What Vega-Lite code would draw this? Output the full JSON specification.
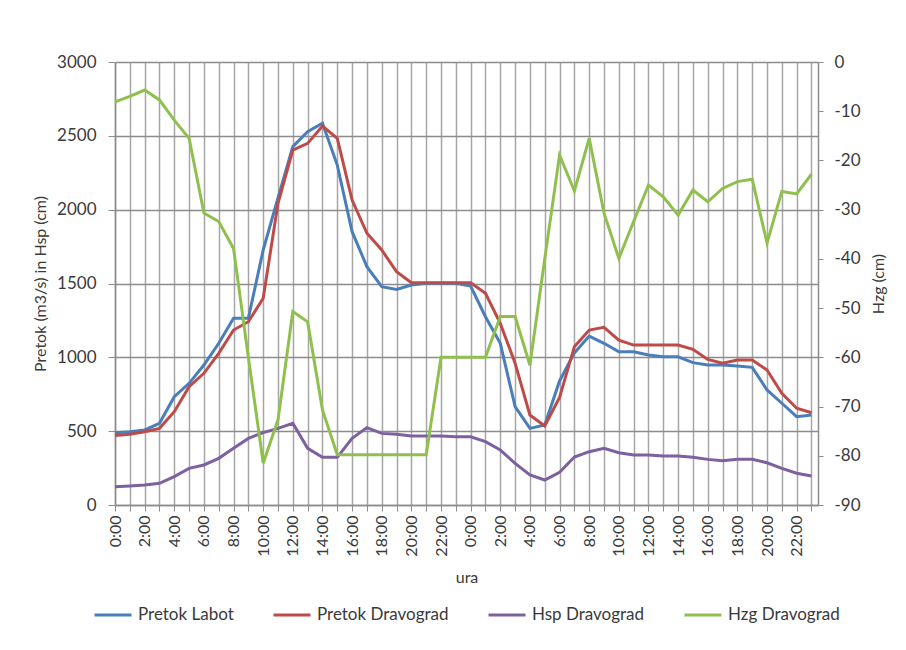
{
  "$schema": "https://vega.github.io/schema/vega-lite/v6.json",
  "width": 703,
  "height": 443,
  "autosize": {"type": "none"},
  "padding": {"left": 115, "top": 62, "right": 88, "bottom": 145},
  "background": "white",
  "config": {
    "font": "Lato",
    "view": {"stroke": null},
    "axis": {
      "labelFont": "Lato",
      "titleFont": "Lato",
      "labelColor": "#3a3a3a",
      "titleColor": "#3a3a3a",
      "labelFontSize": 16,
      "titleFontSize": 16,
      "titleFontWeight": "normal"
    },
    "legend": {
      "labelFont": "Lato",
      "labelFontSize": 17,
      "labelColor": "#3a3a3a"
    }
  },
  "data": {
    "values": [
      {"i": 0, "ura": "0:00", "Pretok Labot": 490, "Pretok Dravograd": 470, "Hsp Dravograd": 124, "Hzg Dravograd": -8.1},
      {"i": 1, "ura": "1:00", "Pretok Labot": 496, "Pretok Dravograd": 479, "Hsp Dravograd": 129, "Hzg Dravograd": -7.0},
      {"i": 2, "ura": "2:00", "Pretok Labot": 508, "Pretok Dravograd": 496, "Hsp Dravograd": 135, "Hzg Dravograd": -5.7},
      {"i": 3, "ura": "3:00", "Pretok Labot": 553, "Pretok Dravograd": 519, "Hsp Dravograd": 147, "Hzg Dravograd": -7.7},
      {"i": 4, "ura": "4:00", "Pretok Labot": 733, "Pretok Dravograd": 632, "Hsp Dravograd": 192, "Hzg Dravograd": -11.8},
      {"i": 5, "ura": "5:00", "Pretok Labot": 824, "Pretok Dravograd": 801, "Hsp Dravograd": 248, "Hzg Dravograd": -15.5},
      {"i": 6, "ura": "6:00", "Pretok Labot": 948, "Pretok Dravograd": 892, "Hsp Dravograd": 271, "Hzg Dravograd": -30.7},
      {"i": 7, "ura": "7:00", "Pretok Labot": 1095, "Pretok Dravograd": 1027, "Hsp Dravograd": 316, "Hzg Dravograd": -32.4},
      {"i": 8, "ura": "8:00", "Pretok Labot": 1264, "Pretok Dravograd": 1185, "Hsp Dravograd": 384, "Hzg Dravograd": -37.9},
      {"i": 9, "ura": "9:00", "Pretok Labot": 1264, "Pretok Dravograd": 1241, "Hsp Dravograd": 451, "Hzg Dravograd": -60},
      {"i": 10, "ura": "10:00", "Pretok Labot": 1727, "Pretok Dravograd": 1400, "Hsp Dravograd": 490, "Hzg Dravograd": -81.5},
      {"i": 11, "ura": "11:00", "Pretok Labot": 2080, "Pretok Dravograd": 2043, "Hsp Dravograd": 519, "Hzg Dravograd": -72.7},
      {"i": 12, "ura": "12:00", "Pretok Labot": 2427, "Pretok Dravograd": 2404, "Hsp Dravograd": 553, "Hzg Dravograd": -50.7},
      {"i": 13, "ura": "13:00", "Pretok Labot": 2528, "Pretok Dravograd": 2449, "Hsp Dravograd": 384, "Hzg Dravograd": -52.8},
      {"i": 14, "ura": "14:00", "Pretok Labot": 2585, "Pretok Dravograd": 2566, "Hsp Dravograd": 323, "Hzg Dravograd": -70.7},
      {"i": 15, "ura": "15:00", "Pretok Labot": 2302, "Pretok Dravograd": 2483, "Hsp Dravograd": 323, "Hzg Dravograd": -79.8},
      {"i": 16, "ura": "16:00", "Pretok Labot": 1851, "Pretok Dravograd": 2065, "Hsp Dravograd": 451, "Hzg Dravograd": -79.8},
      {"i": 17, "ura": "17:00", "Pretok Labot": 1614, "Pretok Dravograd": 1840, "Hsp Dravograd": 524, "Hzg Dravograd": -79.8},
      {"i": 18, "ura": "18:00", "Pretok Labot": 1478, "Pretok Dravograd": 1727, "Hsp Dravograd": 485, "Hzg Dravograd": -79.8},
      {"i": 19, "ura": "19:00", "Pretok Labot": 1460, "Pretok Dravograd": 1580, "Hsp Dravograd": 479, "Hzg Dravograd": -79.8},
      {"i": 20, "ura": "20:00", "Pretok Labot": 1490, "Pretok Dravograd": 1505, "Hsp Dravograd": 467, "Hzg Dravograd": -79.8},
      {"i": 21, "ura": "21:00", "Pretok Labot": 1501, "Pretok Dravograd": 1505, "Hsp Dravograd": 467, "Hzg Dravograd": -79.8},
      {"i": 22, "ura": "22:00", "Pretok Labot": 1501, "Pretok Dravograd": 1505, "Hsp Dravograd": 467, "Hzg Dravograd": -60},
      {"i": 23, "ura": "23:00", "Pretok Labot": 1501, "Pretok Dravograd": 1505, "Hsp Dravograd": 462, "Hzg Dravograd": -60},
      {"i": 24, "ura": "0:00", "Pretok Labot": 1483, "Pretok Dravograd": 1505, "Hsp Dravograd": 462, "Hzg Dravograd": -60},
      {"i": 25, "ura": "1:00", "Pretok Labot": 1275, "Pretok Dravograd": 1434, "Hsp Dravograd": 429, "Hzg Dravograd": -60},
      {"i": 26, "ura": "2:00", "Pretok Labot": 1095, "Pretok Dravograd": 1230, "Hsp Dravograd": 372, "Hzg Dravograd": -51.7},
      {"i": 27, "ura": "3:00", "Pretok Labot": 666, "Pretok Dravograd": 960, "Hsp Dravograd": 282, "Hzg Dravograd": -51.7},
      {"i": 28, "ura": "4:00", "Pretok Labot": 519, "Pretok Dravograd": 609, "Hsp Dravograd": 203, "Hzg Dravograd": -61.6},
      {"i": 29, "ura": "5:00", "Pretok Labot": 542, "Pretok Dravograd": 535, "Hsp Dravograd": 169, "Hzg Dravograd": -40},
      {"i": 30, "ura": "6:00", "Pretok Labot": 840, "Pretok Dravograd": 728, "Hsp Dravograd": 222, "Hzg Dravograd": -18.9},
      {"i": 31, "ura": "7:00", "Pretok Labot": 1030, "Pretok Dravograd": 1072, "Hsp Dravograd": 325, "Hzg Dravograd": -26.2},
      {"i": 32, "ura": "8:00", "Pretok Labot": 1144, "Pretok Dravograd": 1185, "Hsp Dravograd": 361, "Hzg Dravograd": -15.5},
      {"i": 33, "ura": "9:00", "Pretok Labot": 1095, "Pretok Dravograd": 1203, "Hsp Dravograd": 384, "Hzg Dravograd": -30.7},
      {"i": 34, "ura": "10:00", "Pretok Labot": 1038, "Pretok Dravograd": 1117, "Hsp Dravograd": 354, "Hzg Dravograd": -39.9},
      {"i": 35, "ura": "11:00", "Pretok Labot": 1038, "Pretok Dravograd": 1083, "Hsp Dravograd": 339, "Hzg Dravograd": -32.4},
      {"i": 36, "ura": "12:00", "Pretok Labot": 1016, "Pretok Dravograd": 1083, "Hsp Dravograd": 339, "Hzg Dravograd": -25.0},
      {"i": 37, "ura": "13:00", "Pretok Labot": 1004, "Pretok Dravograd": 1083, "Hsp Dravograd": 332, "Hzg Dravograd": -27.4},
      {"i": 38, "ura": "14:00", "Pretok Labot": 1004, "Pretok Dravograd": 1083, "Hsp Dravograd": 332, "Hzg Dravograd": -31.1},
      {"i": 39, "ura": "15:00", "Pretok Labot": 964, "Pretok Dravograd": 1054, "Hsp Dravograd": 323, "Hzg Dravograd": -26.0},
      {"i": 40, "ura": "16:00", "Pretok Labot": 948, "Pretok Dravograd": 986, "Hsp Dravograd": 309, "Hzg Dravograd": -28.4},
      {"i": 41, "ura": "17:00", "Pretok Labot": 948, "Pretok Dravograd": 960, "Hsp Dravograd": 300, "Hzg Dravograd": -25.7},
      {"i": 42, "ura": "18:00", "Pretok Labot": 941, "Pretok Dravograd": 982, "Hsp Dravograd": 309, "Hzg Dravograd": -24.3},
      {"i": 43, "ura": "19:00", "Pretok Labot": 932, "Pretok Dravograd": 982, "Hsp Dravograd": 309, "Hzg Dravograd": -23.8},
      {"i": 44, "ura": "20:00", "Pretok Labot": 779, "Pretok Dravograd": 914, "Hsp Dravograd": 286, "Hzg Dravograd": -36.8},
      {"i": 45, "ura": "21:00", "Pretok Labot": 689, "Pretok Dravograd": 756, "Hsp Dravograd": 248, "Hzg Dravograd": -26.3},
      {"i": 46, "ura": "22:00", "Pretok Labot": 598, "Pretok Dravograd": 655, "Hsp Dravograd": 215, "Hzg Dravograd": -26.8},
      {"i": 47, "ura": "23:00", "Pretok Labot": 609, "Pretok Dravograd": 625, "Hsp Dravograd": 196, "Hzg Dravograd": -22.8}
    ]
  },
  "encoding": {
    "x": {
      "field": "i",
      "type": "quantitative",
      "scale": {"domain": [0, 47.44], "nice": false, "zero": false},
      "axis": {
        "title": "ura",
        "values": [0,1,2,3,4,5,6,7,8,9,10,11,12,13,14,15,16,17,18,19,20,21,22,23,24,25,26,27,28,29,30,31,32,33,34,35,36,37,38,39,40,41,42,43,44,45,46,47],
        "labelExpr": "datum.value % 2 == 0 ? (datum.value % 24) + ':00' : ''",
        "labelAngle": 270,
        "labelOverlap": false,
        "labelFlush": false,
        "labelPadding": 4,
        "grid": true,
        "gridColor": "#a6a6a6",
        "gridWidth": 1.5,
        "gridOpacity": 1,
        "tickColor": "#8c8c8c",
        "tickSize": 6,
        "domainColor": "#8c8c8c",
        "domainWidth": 1.5,
        "titlePadding": 13
      }
    }
  },
  "layer": [
    {
      "transform": [{"fold": ["Pretok Labot", "Pretok Dravograd", "Hsp Dravograd"], "as": ["serija", "vrednost"]}],
      "mark": {"type": "line", "strokeWidth": 3},
      "encoding": {
        "y": {
          "field": "vrednost",
          "type": "quantitative",
          "scale": {"domain": [0, 3000], "nice": false},
          "axis": {
            "title": "Pretok (m3/s) in Hsp (cm)",
            "values": [0, 500, 1000, 1500, 2000, 2500, 3000],
            "format": "d",
            "labelFontSize": 17,
            "grid": true,
            "gridColor": "#8c8c8c",
            "gridWidth": 1.5,
            "gridOpacity": 1,
            "tickColor": "#8c8c8c",
            "tickSize": 7,
            "domainColor": "#8c8c8c",
            "domainWidth": 1.5,
            "labelPadding": 12,
            "titlePadding": 8
          }
        },
        "color": {
          "field": "serija",
          "type": "nominal",
          "scale": {
            "domain": ["Pretok Labot", "Pretok Dravograd", "Hsp Dravograd", "Hzg Dravograd"],
            "range": ["#4a7ebb", "#be4b48", "#7d60a0", "#8fc04e"]
          },
          "legend": {
            "title": null,
            "orient": "none",
            "legendX": -22,
            "legendY": 533,
            "direction": "horizontal",
            "symbolType": "stroke",
            "symbolStrokeWidth": 3,
            "symbolSize": 1369,
            "labelOffset": 5,
            "columnPadding": 33
          }
        }
      }
    },
    {
      "transform": [{"fold": ["Hzg Dravograd"], "as": ["serija", "vrednost"]}],
      "mark": {"type": "line", "strokeWidth": 3},
      "encoding": {
        "y": {
          "field": "vrednost",
          "type": "quantitative",
          "scale": {"domain": [-90, 0], "nice": false, "zero": false},
          "axis": {
            "orient": "right",
            "title": "Hzg (cm)",
            "titleAngle": 270,
            "values": [-90, -80, -70, -60, -50, -40, -30, -20, -10, 0],
            "labelExpr": "'' + datum.value",
            "labelFontSize": 17,
            "grid": false,
            "tickColor": "#8c8c8c",
            "tickSize": 5,
            "domainColor": "#8c8c8c",
            "domainWidth": 1.5,
            "labelPadding": 11,
            "titlePadding": 26
          }
        },
        "color": {"field": "serija", "type": "nominal"}
      }
    }
  ],
  "resolve": {"scale": {"y": "independent"}}
}
